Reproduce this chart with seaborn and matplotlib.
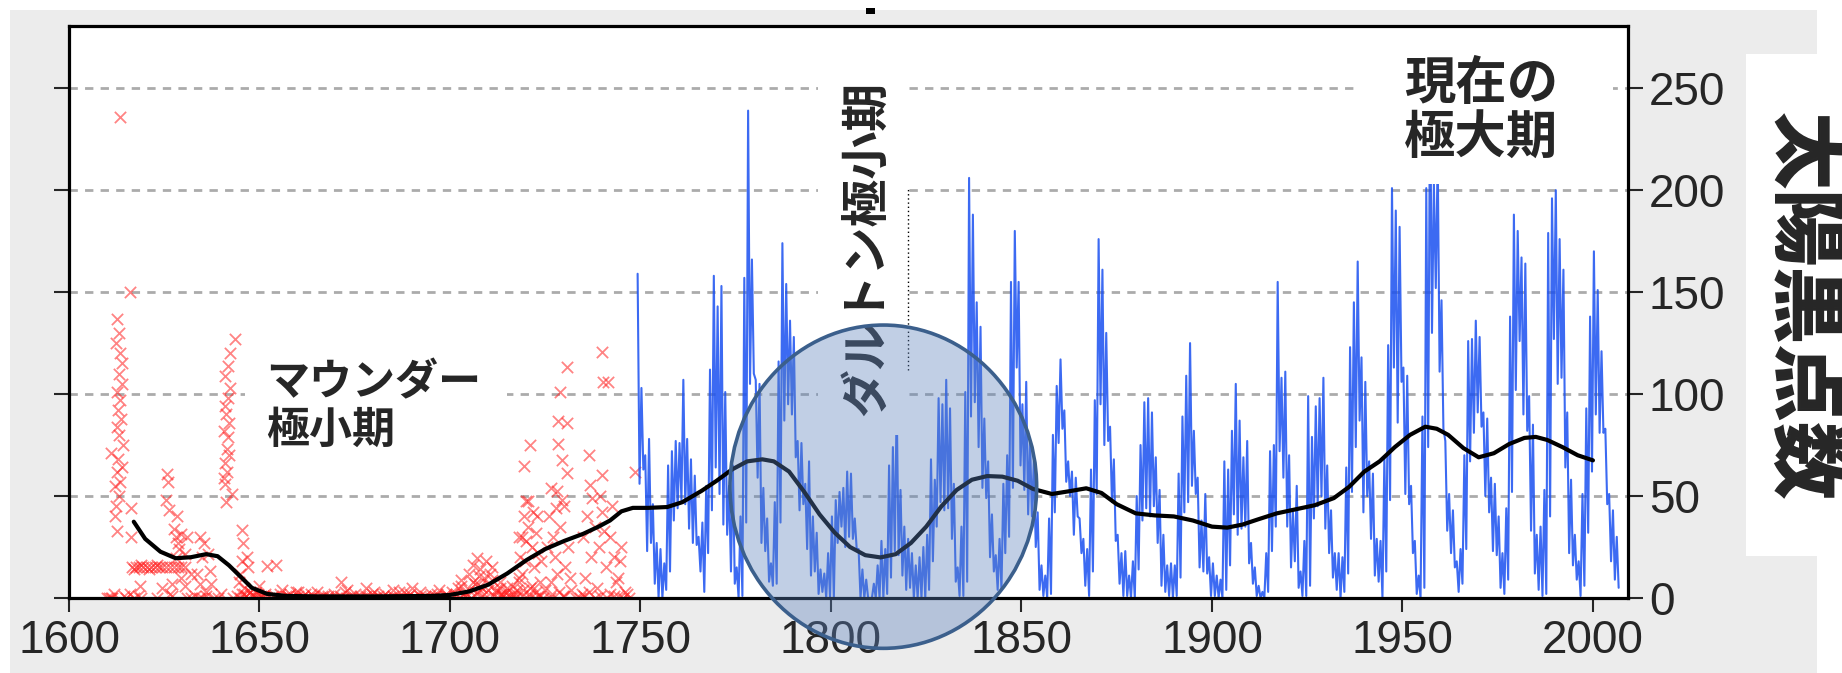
import matplotlib
matplotlib.use("Agg")
import matplotlib.pyplot as plt
import seaborn as sns
from matplotlib.patches import Ellipse, Rectangle

# ------------------------------------------------------------------ data
# monthly sunspot number (1749-2006): highest and lowest monthly value of each year
blue_years = list(range(1749, 2007))
blue_hi = [159, 103, 70, 78, 46, 27, 24, 17, 65, 72, 77, 76, 107, 78, 68, 60, 30, 37, 55, 112,
           158, 143, 153, 101, 55, 65, 15, 40, 157, 239, 166, 107, 105, 54, 39, 17, 47, 116, 174, 154,
           136, 128, 77, 76, 56, 67, 40, 32, 14, 12, 22, 40, 48, 52, 54, 62, 61, 39, 24, 14,
           9, 0, 7, 16, 28, 24, 65, 74, 96, 53, 35, 29, 22, 16, 20, 25, 31, 68, 58, 98,
           95, 107, 93, 56, 15, 35, 101, 206, 188, 145, 133, 88, 67, 41, 21, 29, 56, 70, 155, 180,
           155, 95, 106, 77, 67, 42, 16, 11, 39, 80, 104, 117, 92, 67, 62, 59, 39, 29, 24, 63,
           97, 176, 161, 130, 84, 68, 31, 22, 23, 11, 18, 50, 75, 96, 98, 91, 69, 53, 31, 16,
           17, 16, 61, 89, 109, 125, 82, 59, 38, 51, 20, 17, 11, 9, 67, 63, 82, 105, 87, 69,
           77, 27, 15, 6, 3, 22, 72, 75, 155, 108, 111, 70, 42, 55, 13, 28, 99, 79, 94, 98,
           108, 65, 43, 22, 22, 20, 64, 123, 145, 165, 118, 106, 67, 61, 29, 28, 69, 124, 201, 190,
           182, 113, 109, 55, 28, 11, 89, 201, 254, 203, 217, 146, 77, 51, 43, 18, 24, 70, 126, 127,
           136, 128, 91, 88, 59, 56, 40, 22, 44, 138, 188, 180, 167, 164, 99, 85, 31, 35, 53, 179,
           196, 200, 176, 161, 91, 58, 31, 18, 51, 93, 138, 170, 151, 121, 83, 51, 43, 30]
blue_lo = [56, 63, 23, 27, 7, 0, 0, 4, 13, 38, 44, 48, 46, 34, 27, 26, 13, 3, 22, 43,
           64, 51, 36, 31, 13, 7, 0, 1, 37, 105, 110, 59, 27, 23, 8, 6, 7, 37, 87, 95,
           90, 69, 43, 46, 24, 11, 13, 2, 3, 0, 0, 0, 27, 35, 25, 30, 29, 24, 0, 0,
           0, 0, 0, 0, 0, 2, 10, 23, 21, 11, 4, 5, 0, 0, 0, 0, 4, 18, 35, 47,
           43, 44, 29, 8, 1, 1, 8, 89, 96, 74, 54, 49, 20, 13, 4, 4, 22, 30, 54, 113,
           65, 53, 41, 40, 25, 4, 1, 0, 2, 42, 76, 83, 57, 50, 31, 40, 22, 6, 1, 13,
           51, 95, 75, 77, 47, 28, 7, 1, 1, 0, 0, 14, 38, 44, 40, 45, 27, 6, 3, 1,
           0, 1, 10, 42, 47, 55, 51, 15, 13, 12, 1, 1, 0, 0, 4, 16, 41, 31, 34, 35,
           17, 7, 1, 0, 0, 3, 23, 35, 72, 59, 35, 15, 18, 5, 1, 1, 6, 39, 45, 50,
           34, 22, 10, 4, 0, 3, 12, 52, 74, 87, 42, 50, 29, 11, 8, 0, 13, 48, 113, 86,
           106, 51, 46, 22, 2, 0, 5, 74, 130, 152, 111, 83, 33, 22, 15, 3, 7, 24, 67, 81,
           91, 84, 50, 42, 23, 21, 5, 2, 9, 52, 102, 126, 90, 82, 33, 12, 4, 1, 2, 40,
           127, 105, 108, 64, 22, 16, 9, 1, 6, 32, 62, 90, 81, 81, 46, 18, 9, 5]

# smoothed curve
black_years = [1617, 1620, 1624, 1628, 1632, 1636, 1639, 1642, 1645, 1648, 1652, 1657, 1665, 1680,
               1695, 1700, 1705, 1710, 1715, 1720, 1725, 1730, 1735, 1739, 1742, 1745, 1748, 1752,
               1757, 1761, 1766, 1770, 1774, 1778, 1782, 1785, 1789, 1793, 1797, 1801, 1805, 1809,
               1813, 1817, 1821, 1825, 1829, 1833, 1837, 1841, 1845, 1849, 1853, 1858, 1863, 1867,
               1871, 1875, 1880, 1885, 1890, 1895, 1900, 1904, 1908, 1912, 1917, 1922, 1927, 1932,
               1936, 1940, 1944, 1948, 1952, 1956, 1959, 1962, 1966, 1970, 1974, 1978, 1982, 1985,
               1988, 1992, 1996, 2000]
black_values = [37.4, 29, 22.7, 19.5, 20, 21.5, 20.5, 16, 10.5, 5, 2, 1, 0.8, 0.8,
                1, 1.5, 3.2, 6.5, 12, 18.5, 24, 28, 31.5, 35, 38, 42.5, 44.2, 44.2,
                44.6, 47, 52.5, 57.5, 63, 67, 68, 67, 62, 52, 41, 32, 25, 21,
                19.9, 21.5, 27, 35, 45, 53, 58, 59.8, 59.5, 57.5, 53.5, 51, 52.5, 53.8,
                51.5, 46, 41.5, 40.5, 40, 38, 35, 34.5, 36, 38.5, 41.5, 43.5, 45.5, 49,
                54.5, 62, 67, 74, 80, 84, 83, 80, 73.5, 69, 71, 75.5, 78.5, 79,
                77.5, 74, 70, 67.5]

# early telescopic observations (crosses)
red_years = [
    1610.5, 1611.2, 1611.8, 1612.0, 1612.4, 1613.0, 1612.2, 1613.4, 1612.6, 1613.8, 1612.9, 1611.0,
    1614.2, 1613.1, 1612.5, 1613.6, 1612.8, 1613.3, 1612.6, 1613.9, 1613.1, 1614.0, 1613.5, 1612.4,
    1613.2, 1612.7, 1613.5, 1616.0, 1612.7, 1616.4, 1616.2, 1618.6,
    1616.5, 1617.5, 1618.5, 1619.5, 1620.5, 1621.5, 1622.5, 1623.5, 1624.5, 1625.5, 1626.5, 1627.5,
    1628.5, 1629.5, 1630.5, 1617.0, 1619.0, 1621.0, 1623.0,
    1625.8, 1626.0, 1625.5, 1626.3, 1627.5, 1628.0, 1628.4, 1629.3, 1631.0, 1630.5, 1628.5, 1629.0,
    1628.0, 1629.5, 1627.0, 1630.5, 1626.5, 1624.5, 1632.0,
    1634.5, 1635.5, 1636.6, 1637.0, 1634.4, 1637.4, 1633.5, 1635.0, 1636.0,
    1643.7, 1641.7, 1642.2, 1641.0, 1642.3, 1641.8, 1641.0, 1641.2, 1641.9, 1640.8, 1641.7, 1641.4,
    1642.0, 1641.0, 1641.5, 1640.6, 1641.0, 1642.7, 1641.3,
    1645.3, 1645.7, 1646.6, 1647.0, 1644.5, 1646.0, 1647.5, 1644.8, 1645.5,
    1652.0, 1654.4, 1671.5, 1660.0, 1662.0, 1665.0, 1668.0, 1673.0, 1675.0, 1678.0, 1680.0, 1683.0,
    1685.0, 1688.0, 1690.0, 1692.0, 1695.0, 1697.0, 1699.0, 1656.0, 1658.0, 1650.0, 1649.0,
    1702.0, 1703.0, 1704.0, 1705.0, 1706.0, 1707.0, 1708.0, 1709.0, 1710.0, 1711.0, 1712.0, 1713.0,
    1714.0, 1706.5, 1708.5, 1710.5, 1703.5, 1715.0, 1707.5, 1709.5,
    1718.0, 1718.5, 1719.0, 1719.5, 1720.0, 1720.6, 1721.0, 1719.3, 1720.5, 1721.5, 1722.0, 1722.5,
    1723.0, 1723.5, 1724.0, 1717.5, 1719.0, 1721.0, 1720.0, 1721.8, 1718.2, 1722.8, 1719.8,
    1726.6, 1728.0, 1728.4, 1728.4, 1728.9, 1729.3, 1730.6, 1730.6, 1730.6, 1726.0, 1727.0, 1727.5,
    1728.0, 1729.0, 1730.0, 1731.0, 1731.5, 1726.5, 1729.5, 1727.8, 1725.5, 1730.2,
    1736.4, 1736.8, 1737.3, 1739.5, 1739.8, 1739.9, 1740.2, 1741.5, 1748.6, 1735.0, 1736.0, 1737.0,
    1738.0, 1739.0, 1740.0, 1741.0, 1742.0, 1743.0, 1744.0, 1745.0, 1735.5, 1738.5, 1742.5, 1743.5,
    1746.0, 1740.5, 1744.5,
    1610.0, 1611.0, 1614.5, 1615.0, 1616.0, 1617.0, 1618.0, 1619.0, 1623.0, 1627.0, 1631.0, 1632.0,
    1633.0, 1634.0, 1635.0, 1636.0, 1638.0, 1639.0, 1640.0, 1643.0, 1644.0, 1645.0, 1646.0, 1647.0,
    1648.0, 1649.0, 1650.0, 1651.0, 1652.0, 1653.0, 1654.0, 1655.0, 1656.0, 1657.0, 1658.0, 1659.0,
    1660.0, 1661.0, 1662.0, 1663.0, 1664.0, 1665.0, 1666.0, 1667.0, 1668.0, 1669.0, 1670.0, 1671.0,
    1672.0, 1673.0, 1674.0, 1675.0, 1676.0, 1677.0, 1678.0, 1679.0, 1680.0, 1681.0, 1682.0, 1683.0,
    1684.0, 1685.0, 1686.0, 1687.0, 1688.0, 1689.0, 1690.0, 1691.0, 1692.0, 1693.0, 1694.0, 1695.0,
    1696.0, 1697.0, 1698.0, 1699.0, 1700.0, 1701.0, 1702.5, 1704.5, 1705.5, 1707.2, 1709.2, 1711.5,
    1712.5, 1713.5, 1714.5, 1715.5, 1716.0, 1716.5, 1717.0, 1718.8, 1720.3, 1722.2, 1723.2, 1724.5,
    1726.2, 1730.0, 1733.0, 1734.0, 1735.2, 1738.0, 1741.2, 1743.0, 1745.5, 1747.0,
    1645.5, 1646.5, 1647.5, 1648.5, 1649.5, 1650.5, 1651.5, 1653.5, 1655.5, 1657.5, 1659.5, 1661.5,
    1663.5, 1666.5, 1669.5, 1672.5, 1676.5, 1679.5, 1682.5, 1686.5, 1689.5, 1693.5, 1696.5, 1699.5,
    1700.5, 1701.5, 1703.0, 1704.0, 1705.0, 1706.0, 1707.0, 1708.0, 1709.0, 1710.0, 1711.0, 1712.0,
    1713.0, 1714.0, 1715.0, 1716.2, 1717.2, 1718.2, 1719.2, 1720.8, 1721.6, 1722.6, 1723.6, 1725.0,
    1726.8, 1728.6, 1729.6, 1731.8, 1734.6, 1736.5, 1739.5, 1742.0, 1744.0, 1746.5]
red_values = [
    0, 0, 2, 40, 45, 50, 55, 57, 62, 64, 68, 71,
    75, 80, 84, 88, 92, 97, 101, 105, 110, 115, 120, 125,
    130, 137, 236, 150, 33, 44, 30, 6,
    15, 15, 15, 15, 15, 15, 15, 15, 15, 15, 15, 15,
    15, 15, 15, 14, 16, 14, 16,
    61, 57, 48, 43, 34, 30, 40, 31.5, 30, 21.5, 27, 24,
    19.5, 10, 7, 6, 2, 5, 12,
    30, 27, 21.5, 13.4, 7, 7, 12, 20, 3,
    127, 114, 120, 109, 103, 98, 94, 90, 86, 82, 79, 73,
    70, 66, 62, 59, 56, 51, 47,
    33.5, 27, 20, 15.4, 8, 5, 3, 12, 18,
    15.8, 16, 8, 3, 2, 3, 1, 4, 2, 5, 3, 2,
    4, 3, 5, 3, 2, 4, 2, 4, 2, 6, 3,
    5, 9, 3, 12, 16, 19.5, 14, 10, 7, 15, 4, 8,
    2, 7, 5, 12, 2, 5, 11, 18,
    10, 20, 30, 40, 47.5, 47.5, 75, 64.9, 35, 25, 15, 32,
    22, 8, 18, 4, 12, 5, 28, 42, 30, 40, 18,
    54, 52.4, 75.5, 86.6, 101, 67.8, 61.3, 85.8, 113.4, 40, 30, 20,
    12, 35, 45, 25, 10, 8, 48, 44, 25, 15,
    70.2, 55.6, 49.1, 50, 120.7, 60.5, 106, 106, 62, 30, 40, 20,
    35, 25, 42, 15, 30, 20, 10, 25, 10, 5, 45, 8,
    3, 33, 18,
    0, 0, 1, 0, 2, 0, 1, 0, 0, 1, 0, 0,
    1, 0, 0, 1, 0, 0, 2, 0, 1, 0, 2, 0,
    1, 0, 0, 1, 0, 0, 1, 0, 0, 1, 0, 0,
    1, 0, 0, 0, 1, 0, 0, 1, 0, 0, 0, 1,
    0, 0, 1, 0, 0, 0, 1, 0, 0, 1, 0, 0,
    0, 1, 0, 0, 0, 1, 0, 0, 1, 0, 0, 0,
    1, 0, 0, 1, 0, 1, 0, 1, 0, 2, 0, 1,
    0, 2, 0, 1, 0, 2, 0, 1, 0, 0, 1, 0,
    0, 1, 0, 0, 1, 0, 0, 1, 0, 0,
    2, 1, 3, 1, 2, 1, 2, 1, 2, 1, 3, 1,
    2, 1, 2, 3, 1, 2, 1, 3, 2, 1, 2, 1,
    3, 2, 6, 1, 4, 8, 3, 6, 2, 4, 9, 3,
    5, 1, 3, 6, 2, 8, 4, 2, 6, 3, 1, 4,
    2, 3, 1, 4, 2, 3, 1, 2, 1, 2]

x_ticks = [1600, 1650, 1700, 1750, 1800, 1850, 1900, 1950, 2000]
y_ticks = [0, 50, 100, 150, 200, 250]
x_limits = (1600, 2009.2)
y_limits = (0, 280.5)

maunder_label = "マウンダー\n極小期"
dalton_label = "ダルトン極小期"
current_label = "現在の\n極大期"
axis_label = "太陽黒点数"

# ------------------------------------------------------------------ style
sns.set_style("white")
plt.rcParams['font.family'] = ['Liberation Sans', 'Noto Sans CJK JP', 'DejaVu Sans']
JP = ['Noto Sans CJK JP', 'DejaVu Sans']

W, H = 1842, 673
fig = plt.figure(figsize=(W / 100, H / 100), dpi=100)
fig.patch.set_facecolor('white')


def fx(px):
    return px / W


def fy(py):
    return 1 - py / H


# grey screenshot background and white label panel
fig.add_artist(Rectangle((fx(10), 0), fx(1817 - 10), (H - 10) / H, transform=fig.transFigure,
                         facecolor='#ececec', edgecolor='none', zorder=-3))
fig.add_artist(Rectangle((fx(1746), fy(556)), fx(96), 502 / H, transform=fig.transFigure,
                         facecolor='white', edgecolor='none', zorder=-2))
fig.add_artist(Rectangle((fx(866), fy(14)), fx(9), 6 / H, transform=fig.transFigure,
                         facecolor='black', edgecolor='none', zorder=-2))

ax = fig.add_axes([fx(69), fy(598), fx(1628 - 69), (598 - 26) / H])
ax.set_facecolor('white')

# ------------------------------------------------------------------ marks
blue_x, blue_v = [], []
for yr, hi, lo in zip(blue_years, blue_hi, blue_lo):
    blue_x += [yr + 0.25, yr + 0.75]
    blue_v += [hi, lo]

sns.scatterplot(x=red_years, y=red_values, marker='x', color='#ff1f1f', s=66, linewidth=1.3,
                alpha=0.55, ax=ax, zorder=1.8, legend=False)
sns.lineplot(x=blue_x, y=blue_v, color='#1a50f0', linewidth=1.5, alpha=0.85, ax=ax,
             sort=False, estimator=None, zorder=2)
sns.lineplot(x=black_years, y=black_values, color='black', linewidth=3.0, ax=ax,
             sort=False, estimator=None, zorder=2.5)

# ------------------------------------------------------------------ axes
ax.set_xlim(*x_limits)
ax.set_ylim(*y_limits)
ax.set_xticks(x_ticks)
ax.set_yticks(y_ticks)
ax.set_xlabel('')
ax.set_ylabel('')
for s in ax.spines.values():
    s.set_visible(True)
    s.set_color('black')
    s.set_linewidth(2.3)
ax.tick_params(axis='x', direction='out', length=10, width=1.5, labelsize=33, pad=5,
               labelcolor='#262626', bottom=True)
ax.tick_params(axis='y', direction='out', length=11, width=1.5, labelsize=33, pad=4,
               left=True, right=True, labelleft=False, labelright=True, labelcolor='#262626')
ax.set_axisbelow(True)
ax.grid(axis='y', color='#ababab', linewidth=2.0, linestyle=(0, (3.0, 2.6)))
ax.grid(axis='x', visible=False)

# ------------------------------------------------------------------ annotations
ax.add_patch(Rectangle((1646.2, 65), 68.7, 57, facecolor='white', edgecolor='none', zorder=5))
ax.text(1651.8, 94, maunder_label, fontsize=31, fontweight='bold', family=JP,
        ha='left', va='center', linespacing=1.1, zorder=6)

ax.add_patch(Rectangle((1937.5, 203), 67.7, 69, facecolor='white', edgecolor='none', zorder=5))
ax.text(1950.4, 239, current_label, fontsize=37, fontweight='bold', family=JP,
        ha='left', va='center', linespacing=1.05, zorder=6)

ax.add_patch(Rectangle((1796.6, 80), 23.6, 178, facecolor='white', edgecolor='none', zorder=5))
ax.text(1809.4, 171.3, dalton_label, rotation=90, fontsize=34.5, fontweight='bold', family=JP,
        ha='center', va='center', zorder=6)
ax.vlines(1820.2, 112, 201.5, colors='black', linewidth=1.0, linestyles=(0, (1, 2)), zorder=6)

fig.add_artist(Ellipse((fx(883.3), fy(486.7)), fx(306.7), 323.3 / H, transform=fig.transFigure,
                       facecolor=(0.36, 0.51, 0.74, 0.38), edgecolor='#3b5f8c', linewidth=2.6,
                       zorder=5))

fig.text(fx(1803), fy(306), axis_label, rotation=-90, fontsize=56, fontweight='black', family=JP,
         ha='center', va='center', zorder=3)

fig.savefig('out.png', dpi=100)
